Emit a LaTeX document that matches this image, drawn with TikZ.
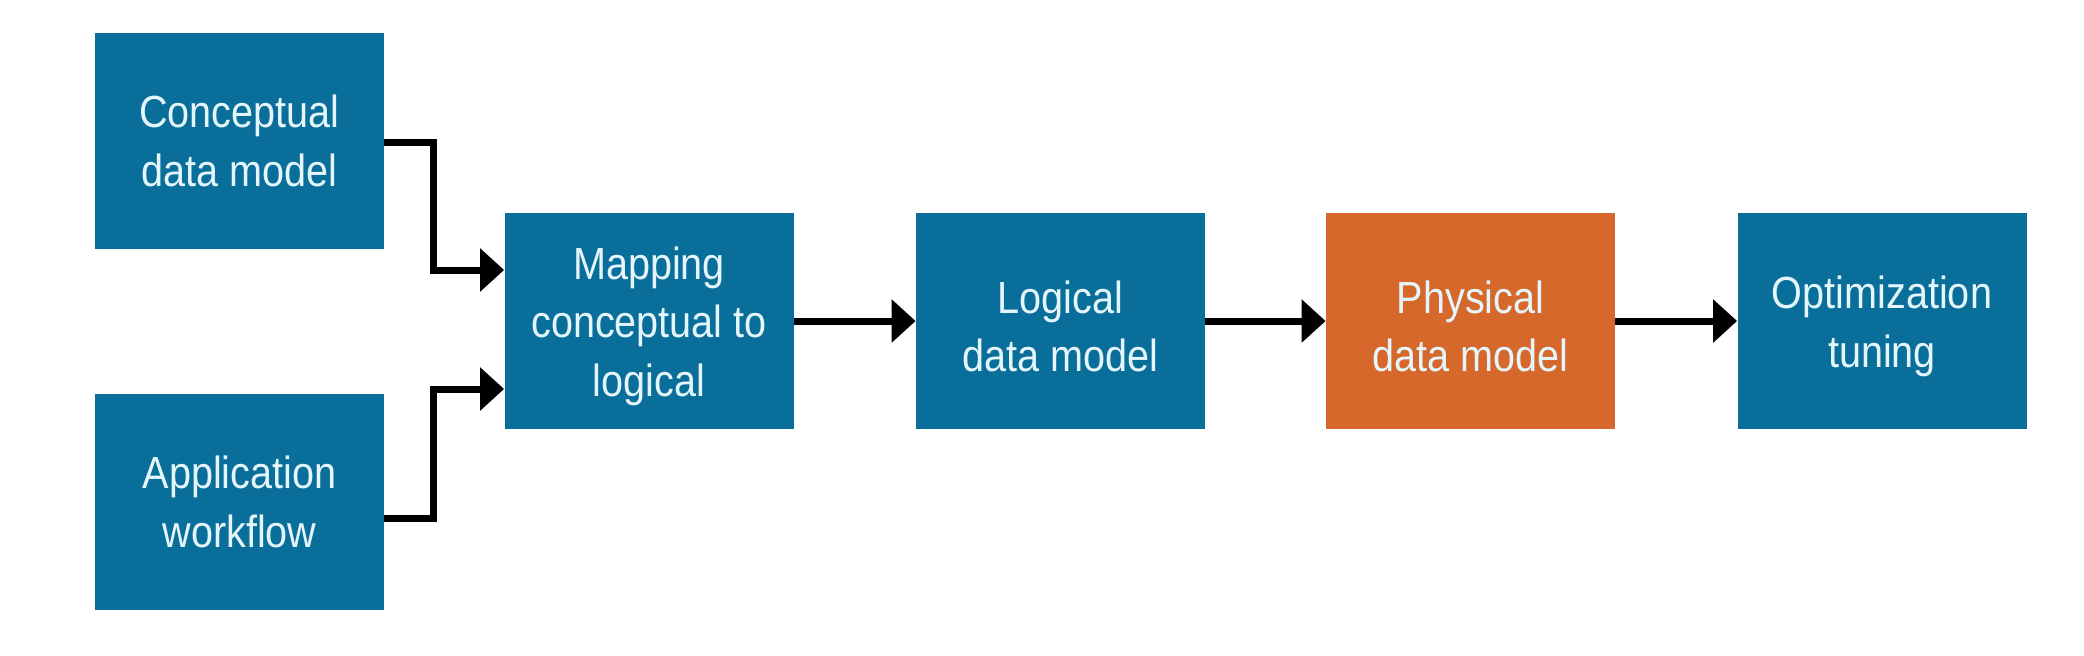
\documentclass[tikz,border=0pt]{standalone}
\usepackage{fontspec}
\setmainfont[FakeStretch=0.88]{Liberation Sans}
\usetikzlibrary{arrows.meta}
\definecolor{boxblue}{RGB}{9,110,154}
\definecolor{boxorange}{RGB}{213,104,42}
\definecolor{boxtext}{RGB}{228,246,251}
\newcommand{\toppad}{\rule{0pt}{21.5pt}}
\tikzset{
  box/.style={rectangle, fill=boxblue, text=boxtext, minimum width=144.5pt, minimum height=108pt,
    inner sep=0pt, align=center, font=\fontsize{22.5pt}{29.25pt}\selectfont},
  obox/.style={box, fill=boxorange},
  conn/.style={line width=3.5pt, -{Triangle[length=12pt,width=21pt]}}
}
\begin{document}
\begin{tikzpicture}[x=0.5pt,y=-0.5pt]
\useasboundingbox (0,0) rectangle (2084,655);
\fill[white] (0,0) rectangle (2084,655);
\node[box] (con) at (239.5,141) {Conceptual\\data model};
\node[box] (app) at (239.5,502) {Application\\workflow};
\node[box] (map) at (649,321) {\toppad Mapping\\conceptual to\\logical};
\node[box] (log) at (1060.5,321) {\toppad Logical\\data model};
\node[obox] (phy) at (1470.5,321) {\toppad Physical\\data model};
\node[box] (opt) at (1882,321) {\toppad Optimization\\tuning};
\draw[conn] (con.east |- 0,142) -- (433,142) -- (433,270) -- (map.west |- 0,270);
\draw[conn] (app.east |- 0,518) -- (433,518) -- (433,389) -- (map.west |- 0,389);
\draw[conn] (map) -- (log);
\draw[conn] (log) -- (phy);
\draw[conn] (phy) -- (opt);
\end{tikzpicture}
\end{document}
